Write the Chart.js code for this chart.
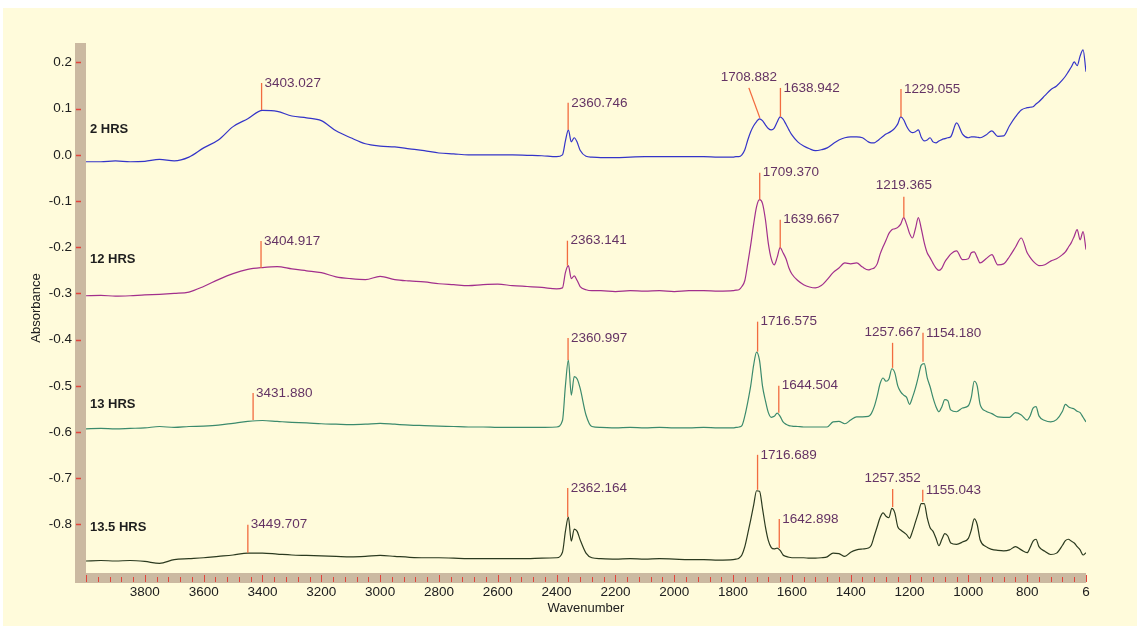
<!DOCTYPE html>
<html>
<head>
<meta charset="utf-8">
<title>FTIR spectra</title>
<script src="https://cdn.jsdelivr.net/npm/chart.js@4.4.1/dist/chart.umd.min.js"></script>
<style>
    html, body { margin: 0; padding: 0; background: #ffffff; }
    canvas { display: block; }
</style>
</head>
<body>
<canvas id="spectra" width="1137" height="626"></canvas>
<script>
// wavenumber grid (cm-1), shared by all four spectra
const wavenumbers = [
    4000, 3950, 3900, 3850, 3800, 3750, 3700, 3650, 3600, 3550, 3500, 3450, 3400, 3350, 3300, 3250, 3200,
    3150, 3100, 3050, 3000, 2950, 2900, 2850, 2800, 2750, 2700, 2650, 2600, 2550, 2500, 2450, 2400,
    2380, 2370, 2360, 2350, 2340, 2330, 2320, 2300, 2280,
    2250, 2200, 2150, 2100, 2050, 2000, 1950, 1900, 1850, 1800,
    1790, 1780, 1770, 1760, 1750, 1740, 1730, 1720, 1710, 1700, 1690, 1680, 1670, 1660, 1650, 1640, 1630, 1620, 1610, 1600,
    1580, 1560, 1540, 1520, 1500, 1480, 1460, 1440, 1420, 1400, 1380, 1360, 1340,
    1330, 1320, 1310, 1300, 1290, 1280, 1270, 1260, 1250, 1240, 1230, 1220, 1210, 1200, 1190, 1180, 1170, 1160,
    1150, 1140, 1130, 1120, 1110, 1100, 1090, 1080, 1070, 1060,
    1040, 1020, 1000, 990, 980, 970, 960, 940, 920, 900, 880, 860, 840, 820, 800, 790, 780, 770, 760, 740,
    720, 700, 680, 670, 660, 650, 640, 630, 620, 610, 600
];

const hrs2 = [
    -0.015, -0.015, -0.013, -0.015, -0.014, -0.010, -0.013, -0.005, 0.015, 0.032, 0.061, 0.078, 0.096, 0.094, 0.084, 0.080, 0.074,
    0.052, 0.037, 0.024, 0.019, 0.017, 0.013, 0.009, 0.004, 0.002, 0.000, 0.000, 0.000, 0.000, -0.001, -0.002, -0.004,
    0.000, 0.030, 0.054, 0.028, 0.037, 0.027, 0.010, -0.003, -0.005,
    -0.006, -0.006, -0.005, -0.004, -0.004, -0.004, -0.004, -0.004, -0.005, -0.005,
    -0.004, -0.004, 0.000, 0.011, 0.032, 0.050, 0.063, 0.072, 0.078, 0.074, 0.065, 0.057, 0.054, 0.058, 0.071, 0.082, 0.077, 0.066, 0.054, 0.043,
    0.028, 0.019, 0.013, 0.009, 0.011, 0.015, 0.024, 0.032, 0.037, 0.039, 0.039, 0.037, 0.028,
    0.026, 0.026, 0.030, 0.035, 0.040, 0.045, 0.048, 0.052, 0.058, 0.067, 0.082, 0.076, 0.062, 0.052, 0.048, 0.050, 0.054, 0.038,
    0.030, 0.032, 0.037, 0.028, 0.026, 0.030, 0.033, 0.035, 0.037, 0.039,
    0.069, 0.045, 0.037, 0.039, 0.039, 0.038, 0.037, 0.043, 0.052, 0.040, 0.041, 0.063, 0.082, 0.097, 0.102, 0.103, 0.104, 0.110, 0.115, 0.128,
    0.141, 0.149, 0.162, 0.170, 0.180, 0.190, 0.201, 0.193, 0.214, 0.227, 0.180
];

const hrs12 = [
    -0.305, -0.304, -0.306, -0.305, -0.303, -0.302, -0.300, -0.297, -0.285, -0.270, -0.257, -0.248, -0.244, -0.242, -0.247, -0.251, -0.255,
    -0.264, -0.268, -0.270, -0.263, -0.270, -0.273, -0.275, -0.279, -0.281, -0.283, -0.281, -0.280, -0.283, -0.285, -0.287, -0.290,
    -0.288, -0.255, -0.240, -0.268, -0.262, -0.272, -0.285, -0.292, -0.294,
    -0.294, -0.296, -0.294, -0.295, -0.294, -0.296, -0.294, -0.294, -0.295, -0.294,
    -0.293, -0.292, -0.285, -0.272, -0.235, -0.195, -0.150, -0.112, -0.097, -0.105, -0.140, -0.192, -0.225, -0.238, -0.222, -0.201, -0.212, -0.225, -0.245, -0.258,
    -0.272, -0.281, -0.286, -0.288, -0.283, -0.270, -0.255, -0.245, -0.234, -0.236, -0.234, -0.243, -0.249,
    -0.247, -0.245, -0.236, -0.215, -0.199, -0.185, -0.170, -0.162, -0.160, -0.157, -0.150, -0.136, -0.150, -0.170, -0.180, -0.160, -0.136, -0.160,
    -0.190, -0.212, -0.223, -0.235, -0.245, -0.250, -0.245, -0.232, -0.223, -0.215,
    -0.208, -0.227, -0.225, -0.212, -0.210, -0.222, -0.234, -0.225, -0.216, -0.238, -0.236, -0.220, -0.200, -0.180, -0.212, -0.222, -0.230, -0.236, -0.240, -0.238,
    -0.230, -0.225, -0.216, -0.210, -0.200, -0.190, -0.176, -0.162, -0.184, -0.166, -0.205
];

const hrs13 = [
    -0.593, -0.592, -0.593, -0.592, -0.591, -0.588, -0.590, -0.588, -0.587, -0.585, -0.581, -0.577, -0.575, -0.577, -0.579, -0.580, -0.582,
    -0.583, -0.584, -0.583, -0.581, -0.583, -0.585, -0.586, -0.587, -0.588, -0.589, -0.589, -0.590, -0.590, -0.590, -0.590, -0.589,
    -0.575, -0.500, -0.444, -0.520, -0.480, -0.485, -0.505, -0.563, -0.588,
    -0.590, -0.591, -0.590, -0.591, -0.590, -0.591, -0.591, -0.590, -0.591, -0.591,
    -0.590, -0.589, -0.586, -0.565, -0.535, -0.500, -0.455, -0.427, -0.445, -0.500, -0.532, -0.558, -0.568, -0.566, -0.559, -0.566, -0.578, -0.583, -0.586, -0.587,
    -0.588, -0.589, -0.589, -0.589, -0.589, -0.589, -0.578, -0.577, -0.582, -0.574, -0.567, -0.567, -0.566,
    -0.560, -0.545, -0.522, -0.495, -0.483, -0.490, -0.485, -0.463, -0.472, -0.500, -0.513, -0.520, -0.525, -0.540, -0.525, -0.505, -0.480, -0.455,
    -0.452, -0.482, -0.502, -0.526, -0.545, -0.556, -0.545, -0.530, -0.532, -0.552,
    -0.556, -0.548, -0.543, -0.525, -0.490, -0.500, -0.540, -0.555, -0.560, -0.567, -0.568, -0.568, -0.558, -0.563, -0.574, -0.565, -0.548, -0.545, -0.565, -0.575,
    -0.578, -0.573, -0.555, -0.540, -0.545, -0.548, -0.550, -0.555, -0.558, -0.568, -0.578
];

const hrs135 = [
    -0.879, -0.878, -0.879, -0.878, -0.880, -0.884, -0.876, -0.874, -0.872, -0.869, -0.866, -0.862, -0.862, -0.864, -0.866, -0.867, -0.868,
    -0.869, -0.870, -0.869, -0.867, -0.869, -0.871, -0.872, -0.872, -0.873, -0.874, -0.874, -0.874, -0.874, -0.874, -0.873, -0.872,
    -0.860, -0.815, -0.784, -0.836, -0.810, -0.815, -0.833, -0.862, -0.872,
    -0.874, -0.875, -0.874, -0.875, -0.874, -0.875, -0.876, -0.876, -0.877, -0.876,
    -0.875, -0.873, -0.866, -0.848, -0.820, -0.790, -0.758, -0.727, -0.728, -0.765, -0.805, -0.835, -0.850, -0.853, -0.851, -0.856, -0.866, -0.869, -0.871, -0.872,
    -0.872, -0.872, -0.873, -0.873, -0.872, -0.870, -0.862, -0.863, -0.869, -0.860, -0.855, -0.853, -0.851,
    -0.845, -0.825, -0.805, -0.785, -0.775, -0.782, -0.785, -0.765, -0.775, -0.805, -0.812, -0.817, -0.822, -0.830, -0.815, -0.795, -0.775, -0.755,
    -0.755, -0.785, -0.807, -0.815, -0.830, -0.846, -0.832, -0.820, -0.825, -0.840,
    -0.843, -0.838, -0.830, -0.812, -0.788, -0.800, -0.833, -0.848, -0.854, -0.856, -0.857, -0.855, -0.848, -0.855, -0.861, -0.850, -0.836, -0.832, -0.848, -0.858,
    -0.865, -0.862, -0.845, -0.835, -0.832, -0.836, -0.840, -0.848, -0.855, -0.866, -0.861
];

const seriesNames = ["2 HRS", "12 HRS", "13 HRS", "13.5 HRS"];
const seriesLabelAbs = [0.054, -0.227, -0.541, -0.807];

// picked peaks: which spectrum, position, absorbance at the peak, label
const peakSeries = [0, 0, 0, 0, 0, 1, 1, 1, 1, 1, 2, 2, 2, 2, 2, 2, 3, 3, 3, 3, 3, 3];
const peakWavenumbers = [
    3403.027, 2360.746, 1708.882, 1638.942, 1229.055,
    3404.917, 2363.141, 1709.370, 1639.667, 1219.365,
    3431.880, 2360.997, 1716.575, 1644.504, 1257.667, 1154.180,
    3449.707, 2362.164, 1716.689, 1642.898, 1257.352, 1155.043
];
const peakAbsorbance = [
    0.097, 0.054, 0.080, 0.082, 0.082,
    -0.245, -0.240, -0.097, -0.201, -0.136,
    -0.574, -0.444, -0.426, -0.558, -0.461, -0.448,
    -0.861, -0.784, -0.725, -0.851, -0.762, -0.751
];

const yTickValues = [0.2, 0.1, 0.0, -0.1, -0.2, -0.3, -0.4, -0.5, -0.6, -0.7, -0.8];
const xTickValues = [3800, 3600, 3400, 3200, 3000, 2800, 2600, 2400, 2200, 2000, 1800, 1600, 1400, 1200, 1000, 800, 600];
const xTickLabels = ["3800", "3600", "3400", "3200", "3000", "2800", "2600", "2400", "2200", "2000", "1800", "1600", "1400", "1200", "1000", "800", "6"];

// label placement per peak: r = text right of a vertical stem, l = slanted stem with text to the left, c = text above
const peakPlacement = ["r", "r", "l", "r", "r", "r", "r", "r", "r", "c", "r", "r", "r", "r", "c", "r", "r", "r", "r", "r", "c", "r"];
const peakStem = [27, 27, 30, 29, 28, 27, 25, 27, 28, 21, 27, 22, 30, 27, 25, 29, 28, 29, 35, 29, 18, 12];

const lineColors = ["#3434c8", "#a22f8c", "#3b8a6c", "#2b3a1f"];
const FONT = "'Liberation Sans', Arial, sans-serif";

const spectrumDecor = {
    id: "spectrumDecor",
    beforeDraw(chart) {
        const ctx = chart.ctx;
        const area = chart.chartArea;
        const xs = chart.scales.x;
        const ys = chart.scales.y;

        ctx.save();
        ctx.fillStyle = "#ffffff";
        ctx.fillRect(0, 0, chart.width, chart.height);
        ctx.fillStyle = "#fffbdb";
        ctx.fillRect(3, 8, chart.width - 3, chart.height - 8);

        // tan axis bars
        ctx.fillStyle = "#cbb9a1";
        ctx.fillRect(area.left - 11, area.top, 11, area.bottom - area.top + 10);
        ctx.fillRect(area.left - 11, area.bottom, area.right - area.left + 11, 10);

        ctx.strokeStyle = "#e2453a";
        ctx.lineWidth = 1.5;
        ctx.beginPath();
        for (const v of yTickValues) {
            const py = Math.round(ys.getPixelForValue(v)) + 0.5;
            ctx.moveTo(area.left - 10, py);
            ctx.lineTo(area.left - 5, py);
        }
        ctx.stroke();

        ctx.lineWidth = 1;
        ctx.beginPath();
        for (let w = 4000; w >= 600; w -= 40) {
            const px = Math.round(xs.getPixelForValue(w)) + 0.5;
            const major = w % 200 === 0;
            ctx.moveTo(px, area.bottom + (major ? 2 : 4));
            ctx.lineTo(px, area.bottom + 9);
        }
        ctx.stroke();
        ctx.restore();
    },
    afterDatasetsDraw(chart) {
        const ctx = chart.ctx;
        const area = chart.chartArea;
        const xs = chart.scales.x;
        const ys = chart.scales.y;

        ctx.save();
        ctx.font = "bold 13px " + FONT;
        ctx.fillStyle = "#1e1e1e";
        ctx.textAlign = "left";
        ctx.textBaseline = "middle";
        for (let i = 0; i < seriesNames.length; i++) {
            ctx.fillText(seriesNames[i], area.left + 4, ys.getPixelForValue(seriesLabelAbs[i]));
        }

        ctx.font = "13.5px " + FONT;
        for (let i = 0; i < peakWavenumbers.length; i++) {
            const px = xs.getPixelForValue(peakWavenumbers[i]);
            const py = ys.getPixelForValue(peakAbsorbance[i]);
            const stem = peakStem[i];
            const place = peakPlacement[i];
            const label = peakWavenumbers[i].toFixed(3);
            const topX = place === "l" ? px - 11 : px;
            const topY = py - stem;

            ctx.strokeStyle = "#f26b3f";
            ctx.lineWidth = 1.3;
            ctx.beginPath();
            ctx.moveTo(px, py);
            ctx.lineTo(topX, topY);
            ctx.stroke();

            ctx.fillStyle = "#643364";
            if (place === "r") {
                ctx.textAlign = "left";
                ctx.fillText(label, topX + 3, topY);
            } else {
                ctx.textAlign = "center";
                ctx.fillText(label, topX, topY - 11);
            }
        }
        ctx.restore();
    }
};

const datasets = [hrs2, hrs12, hrs13, hrs135].map(function (values, i) {
    return {
        label: seriesNames[i],
        data: wavenumbers.map(function (w, j) { return { x: w, y: values[j] }; }),
        borderColor: lineColors[i],
        borderWidth: 1.2,
        pointRadius: 0,
        cubicInterpolationMode: "monotone",
        fill: false
    };
});

new Chart(document.getElementById("spectra"), {
    type: "line",
    data: { datasets: datasets },
    options: {
        responsive: false,
        animation: false,
        devicePixelRatio: 1,
        layout: { padding: { left: 0, top: 43, right: 51, bottom: 0 } },
        plugins: {
            legend: { display: false },
            tooltip: { enabled: false }
        },
        scales: {
            x: {
                type: "linear",
                reverse: true,
                min: 600,
                max: 4000,
                grid: { display: false, drawTicks: false },
                border: { display: false },
                afterBuildTicks: function (scale) {
                    scale.ticks = xTickValues.map(function (v) { return { value: v }; });
                },
                afterFit: function (scale) { scale.height = 53; },
                ticks: {
                    autoSkip: false,
                    maxRotation: 0,
                    padding: 11,
                    color: "#202020",
                    font: { family: FONT, size: 13.5 },
                    callback: function (value) {
                        return xTickLabels[xTickValues.indexOf(value)];
                    }
                },
                title: {
                    display: true,
                    text: "Wavenumber",
                    color: "#202020",
                    font: { family: FONT, size: 13 },
                    padding: { top: 0, bottom: 10 }
                }
            },
            y: {
                type: "linear",
                min: -0.905,
                max: 0.242,
                grid: { display: false, drawTicks: false },
                border: { display: false },
                afterBuildTicks: function (scale) {
                    scale.ticks = yTickValues.map(function (v) { return { value: v }; });
                },
                afterFit: function (scale) { scale.width = 86; },
                ticks: {
                    autoSkip: false,
                    padding: 14,
                    color: "#202020",
                    font: { family: FONT, size: 13.5 },
                    callback: function (value) { return value.toFixed(1); }
                },
                title: {
                    display: true,
                    text: "Absorbance",
                    color: "#202020",
                    font: { family: FONT, size: 13 },
                    padding: { top: 29, bottom: 0 }
                }
            }
        }
    },
    plugins: [spectrumDecor]
});
</script>
</body>
</html>
